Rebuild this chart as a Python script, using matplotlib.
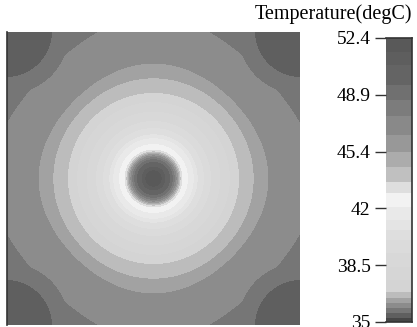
import numpy as np
import matplotlib
matplotlib.use('Agg')
import matplotlib.pyplot as plt

plt.rcParams['font.family'] = ['Liberation Serif', 'DejaVu Serif']

# colour scale (band boundaries in degC and grey level of each band)
level_bounds = [35.0, 35.25, 35.55, 35.85, 36.15, 36.45, 36.85, 37.6, 38.4, 39.2,
                40.0, 40.65, 41.25, 42.05, 42.9, 43.6, 44.5, 45.4, 46.45, 47.65,
                48.6, 49.5, 50.75, 51.55, 52.4]
band_grays = [70, 95, 118, 140, 162, 188, 212, 214, 216, 219, 222, 228, 233, 242,
              222, 192, 172, 152, 137, 124, 112, 100, 94, 89]
tick_values = [35.0, 38.48, 41.96, 45.44, 48.92, 52.4]
tick_labels = ['35', '38.5', '42', '45.4', '48.9', '52.4']

# temperature read along the horizontal mid-line (distance from centre / half-width)
mid_r = [0.0, 0.082, 0.136, 0.163, 0.184, 0.204, 0.24, 0.30, 0.40, 0.50, 0.58, 0.68, 0.78, 1.0]
mid_T = [52.2, 50.6, 48.2, 45.5, 43.3, 42.5, 41.9, 40.6, 39.0, 37.8, 36.85, 36.45, 36.15, 35.95]
# temperature read along the plate edge (distance from corner / half-width)
edge_d = [1.0, 0.63, 0.31, 0.0]
edge_T = [35.95, 35.85, 35.55, 35.3]
# temperature read around each corner (euclidean distance from corner / half-width)
corner_d = [0.0, 0.31, 0.43]
corner_T = [35.3, 35.55, 35.85]

n = 600
u = np.linspace(-1, 1, n)
U, V = np.meshgrid(u, u)
R = np.hypot(U, V)
S = 2 - np.cos(np.pi * U / 2) - np.cos(np.pi * V / 2)
S_round = 1 - np.cos(np.pi * np.clip(R, 0, 2) / 2)
w = np.clip((S - 0.45) / 0.2, 0, 1)
C = (1 - w) * S_round + w * S

s_mid = 1 - np.cos(np.pi * np.array(mid_r) / 2)
s_edge = 2 - np.sin(np.pi * np.array(edge_d) / 2)
s_all = np.concatenate([s_mid, s_edge[1:]])
T_all = np.concatenate([mid_T, edge_T[1:]])
T_main = np.interp(C, s_all, T_all)

DC = np.hypot(1 - np.abs(U), 1 - np.abs(V))
T_corner = np.interp(DC, corner_d, corner_T, right=np.inf)
T = np.minimum(T_main, T_corner)

colors = ['#%02x%02x%02x' % (g, g, g) for g in band_grays]

fig = plt.figure(figsize=(4.17, 3.27), dpi=100)
ax = fig.add_axes([7 / 417, 2 / 327, 293 / 417, 293 / 327])
cs = ax.contourf(U, V, T, levels=level_bounds, colors=colors, antialiased=False)
ax.set_xlim(-1, 1)
ax.set_ylim(-1, 1)
ax.set_xticks([])
ax.set_yticks([])
for side in ['top', 'right', 'bottom']:
    ax.spines[side].set_visible(False)
ax.spines['left'].set_color('#333333')
ax.spines['left'].set_linewidth(1.2)

cax = fig.add_axes([386 / 417, 5 / 327, 26 / 417, 284 / 327])
cb = fig.colorbar(cs, cax=cax, spacing='proportional', ticks=tick_values)
cb.outline.set_visible(False)
cax.yaxis.set_ticks_position('left')
cb.set_ticklabels(tick_labels)
cax.tick_params(axis='y', length=8, width=1, labelsize=14, pad=3, color='#333333')
for xs, ys in [([0, 1], [1, 1]), ([1, 1], [0, 1]), ([0, 1], [0, 0])]:
    cax.plot(xs, ys, transform=cax.transAxes, color='#333333', lw=1.2, clip_on=False)

fig.text(412 / 417, 1 - 14 / 327, 'Temperature(degC)', ha='right', va='center', fontsize=14.5)

fig.savefig('out.png', dpi=100, facecolor='white')
